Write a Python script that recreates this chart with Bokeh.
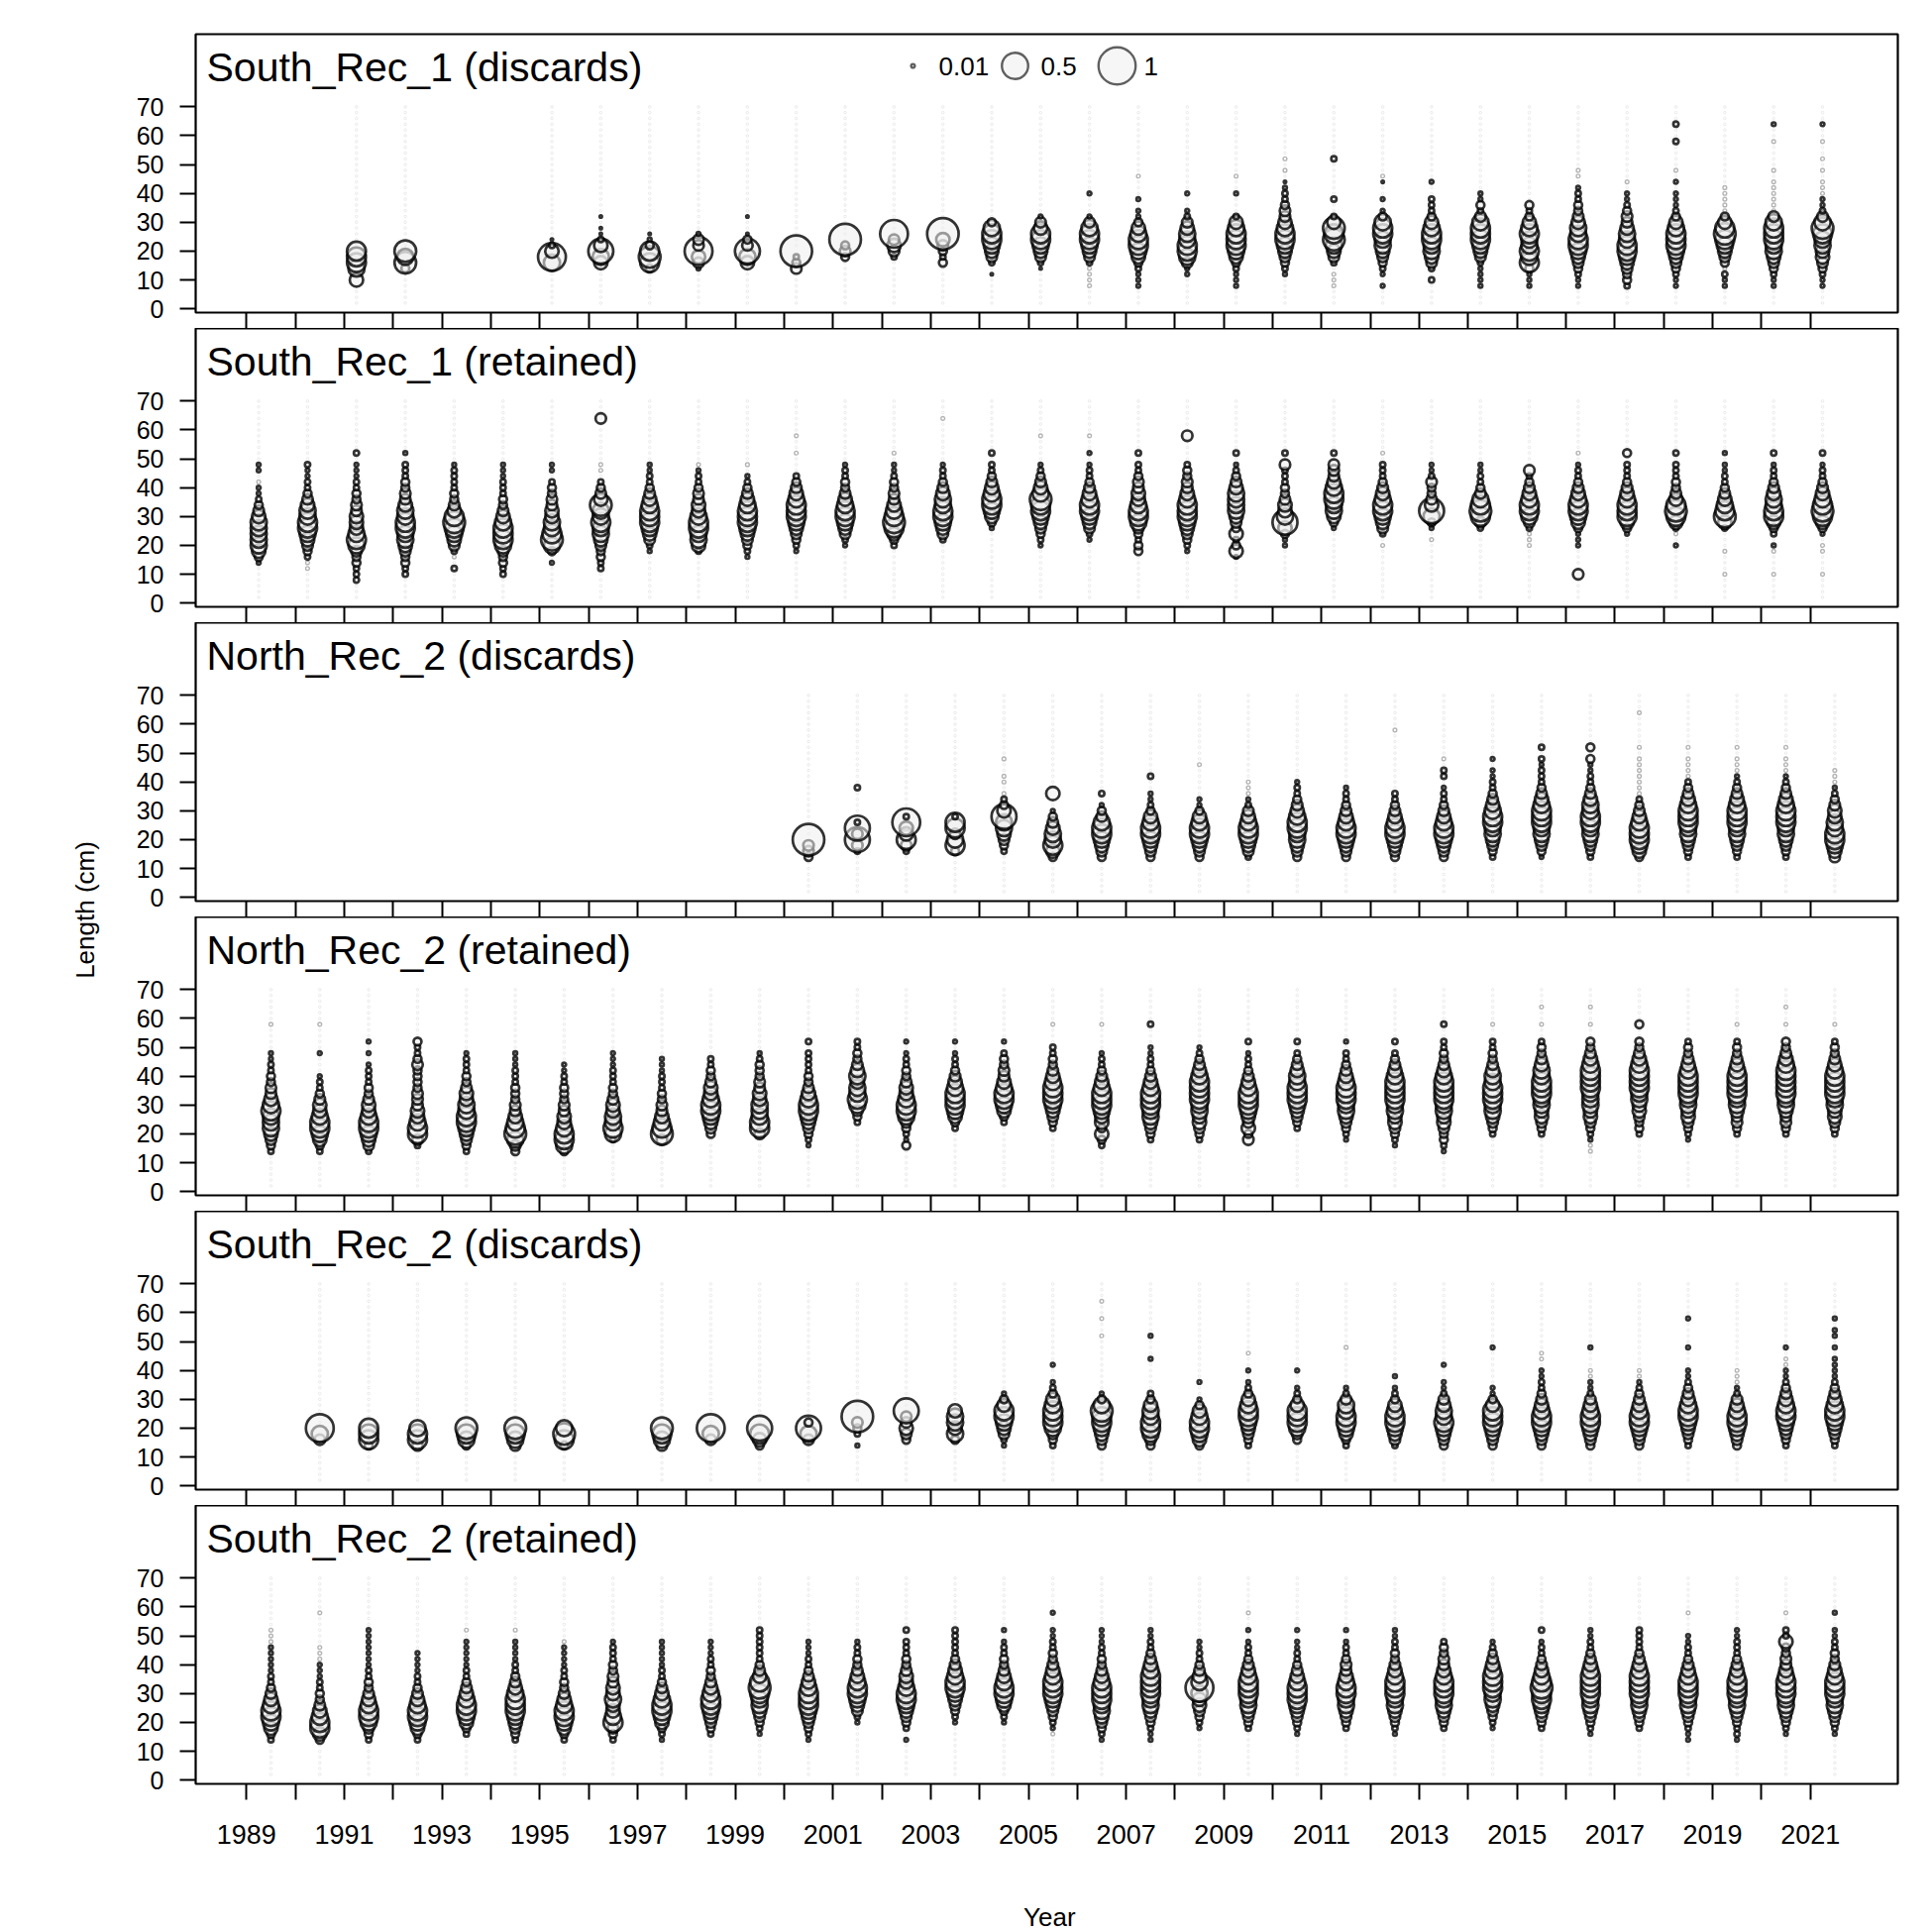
import math
from bokeh.plotting import figure
from bokeh.models import Range1d, FixedTicker, Label
from bokeh.layouts import row, column
from bokeh.embed import file_html
from bokeh.resources import INLINE

# ---------------------------------------------------------------- data
YEARS = list(range(1989, 2022))
X_LABELED_YEARS = [1989, 1991, 1993, 1995, 1997, 1999, 2001, 2003, 2005,
                   2007, 2009, 2011, 2013, 2015, 2017, 2019, 2021]
Y_TICKS = [0, 10, 20, 30, 40, 50, 60, 70]
LENGTH_BINS = list(range(8, 66, 2))      # 8 .. 64 cm, one character per bin
ZERO_BINS = list(range(2, 72, 2))        # bins that show the faint "empty" marker

# proportion read for each size class used in the strings below
# '.' = empty bin, 'a' = tiny pale bubble
LEVEL_P = {"1": 0.001, "2": 0.004, "3": 0.01, "4": 0.02, "5": 0.045,
           "6": 0.08, "7": 0.13, "8": 0.19, "9": 0.26, "A": 0.34,
           "B": 0.45, "C": 0.56, "D": 0.72, "E": 0.85, "F": 0.95}
PALE_P = 0.01

PANEL_NAMES = ["South_Rec_1 (discards)", "South_Rec_1 (retained)",
               "North_Rec_2 (discards)", "North_Rec_2 (retained)",
               "South_Rec_2 (discards)", "South_Rec_2 (retained)"]
SAMPLE_OFFSET = [0.25, 0.25, 0.5, 0.5, 0.5, 0.5]

LEGEND_VALUES = [0.01, 0.5, 1.0]
LEGEND_LABELS = ["0.01", "0.5", "1"]

S1_DISC = {
    1991: ".7.8999",
    1992: "...5A8A",
    1995: "....8C742",
    1996: "....78B7422.2",
    1997: "...59A9532",
    1998: "...367C663",
    1999: "....78B652..2",
    2000: "...654D",
    2001: ".....565D",
    2002: ".....4676C",
    2003: "....54567D",
    2004: "..2.46789985",
    2005: "...2467899763",
    2006: "aaaa467899863...3",
    2007: "33345789987533.3...a",
    2008: "..336899887643..3",
    2009: "3334578999874...3..a",
    2010: "..34567899876654432.a.a",
    2011: "aaa.4678A9A74..4......4",
    2012: "3.345678899853.3..2a",
    2013: ".4.4678899875444..3",
    2014: "33334678999864533",
    2015: "333598988987545",
    2016: "334567899887655443.aa",
    2017: "45567899887665433.a",
    2018: "33456789998754333.3.a....4..4",
    2019: "334a56789A975aaaaa",
    2020: "3345678899986aaaaaa.a....a..3",
    2021: "3345677889A86433aaa.a.a..a..3",
}

S1_RET = {
    1989: "...35788888765433a.33",
    1990: "..aa45678998876544334",
    1991: "444556898777665544333.4",
    1992: ".44556788998876655444.3",
    1993: "..4.a46789A9765544443",
    1994: ".44556899987655444333",
    1995: "...3.58A9887766554.33",
    1996: "..44556788988A7654.aa.......6",
    1997: ".....3467899987654433",
    1998: ".....478899877665443a",
    1999: "....345678999876543.a",
    2000: ".....34567899987654...a..a",
    2001: "......346789987655443",
    2002: "......4579A9876655433.a",
    2003: ".......46789988765443.......a",
    2004: ".........357899876544.4",
    2005: "......34567899A876543....a",
    2006: ".......34678998765443.3..a",
    2007: ".....5545689987766544.4",
    2008: ".....3456789998766554....6",
    2009: "....37547567888876543.4",
    2010: "......3357B8776554446.4",
    2011: ".........357889987666.4",
    2012: "......a.4678998765444.a",
    2013: ".......a.358B76556433",
    2014: ".........469A98654433",
    2015: "......aaa46899876546",
    2016: ".6....333578998765443.a",
    2017: "........3579998765444.5",
    2018: "......3.a479A97655444.4",
    2019: ".a...a...47A987654433.3",
    2020: ".a...a3.4579988765443.4",
    2021: ".a...aa.3579A98765443.4",
}

N2_DISC = {
    2000: "...566D",
    2001: "....46B6B4.....4",
    2002: "....46977C4",
    2003: "....5986994",
    2004: "....456788B754a.aa..a",
    2005: "...579887653..7",
    2006: "...5678998653.4",
    2007: "...567899875433..4",
    2008: "...56789987533.....a",
    2009: "...46789987643aaa",
    2010: "...56788998765443",
    2011: "...5678998765443",
    2012: "...567899876544..........a",
    2013: "...5678998765443.44.a",
    2014: "...4567889987654433.3",
    2015: "...356788999876544434.4",
    2016: "...456788998876544335.5",
    2017: "...57899987654aaaaaaa.a.....a",
    2018: "...45678899987654aaaa.a",
    2019: "...456788999876543aaa.a",
    2020: "...456788999876543aaa.a",
    2021: "...6789988776543aaa",
}

N2_RET = {
    1989: "...456788898766554433....a",
    1990: "...45789987765443...3....a",
    1991: "...4678998776554443.3.3",
    1992: "....4699877666555565445",
    1993: "...456789988776554443",
    1994: "...568A98766555444333",
    1995: "...5899877665554433",
    1996: ".....4898877655444333",
    1997: ".....6A9876655444333",
    1998: "......56789987765544",
    1999: "......699888776655543",
    2000: "....34567899876554444.4",
    2001: "........456898878765544",
    2002: "....53456899877655443.3",
    2003: ".......45789998765443.3",
    2004: "........4578998766554.3",
    2005: ".......456789998765544...a",
    2006: "....45757789998765443....a",
    2007: ".....45678899987654433...4",
    2008: ".....45677889999876543",
    2009: ".....6576789998765443.4",
    2010: ".......45678999887654.4",
    2011: ".....3456788999876544.3",
    2012: "....34567788999987654.4",
    2013: "...34556778899998765544..4",
    2014: "......45678899988765544..a",
    2015: "......45677889998876554..a..a",
    2016: "...aa345677888999987655..a..a",
    2017: "......45567788999987655..5",
    2018: ".....345677889999876554",
    2019: "......45667889999876554..a",
    2020: "......45667889999987655..a..a",
    2021: "......45677889999876554..a",
}

S2_DISC = {
    1990: "....68C",
    1991: "...5999",
    1992: "...6998",
    1993: "...589A",
    1994: "...689A",
    1995: "...59A8",
    1997: "...689A",
    1998: "....68C",
    1999: "...579B",
    2000: "....68B5",
    2001: "...3.456D",
    2002: "....56766B",
    2003: "....587887",
    2004: "...3467899753",
    2005: "...456899987543..3",
    2006: "...567899A853.........a..a..a",
    2007: "...5689988754.....3...3",
    2008: "...578998753..3",
    2009: "...456789987543.3..a",
    2010: "....5689997543..3",
    2011: "...45789988643......a",
    2012: "...46789987543.3",
    2013: "...567898876433..3",
    2014: "...56789997533......3",
    2015: "...56789987654433.aa",
    2016: "...567899876433aa...3",
    2017: "...567899876543aa",
    2018: "...45678998765433...3....3",
    2019: "...56789987643aaa",
    2020: "...45678998765433aa.3",
    2021: "...4567899876543333.3.33.3",
}

S2_RET = {
    1989: "...45789987654433333aaa",
    1990: "...57998765544333aaa.....a",
    1991: "...45689987655443333333",
    1992: "...4578998765443333",
    1993: "....45789987654433333.a",
    1994: "...456789998765443333.a",
    1995: "...45789987655443333a",
    1996: "...456987787766554443",
    1997: "...345789987654433333",
    1998: "....45678998765544333",
    1999: "....34567889A9765444444",
    2000: "...345678999876544333",
    2001: "......346789987655443",
    2002: "...3.4567899877655444.4",
    2003: "......34567899876544444",
    2004: "......345789987655443.3",
    2005: "....a345678999876554433..3",
    2006: "...34567889998765544333",
    2007: "...33456788999987654433",
    2008: ".....3456778C87654433",
    2009: ".....4567889998765443.3..a",
    2010: "....34567899987654433.3",
    2011: ".....4567889987665443.3",
    2012: "....3456788999876554433",
    2013: ".....4567889998766554",
    2014: ".....3456788999876543",
    2015: ".....4567899A98765443.4",
    2016: "....3456788999987654433",
    2017: ".....456788999987654444",
    2018: "...3345678899987654433...a",
    2019: "...34456788999876544433",
    2020: "....3456788999876655744..a",
    2021: "....3456788999876554433..3",
}

PANEL_DATA = [S1_DISC, S1_RET, N2_DISC, N2_RET, S2_DISC, S2_RET]

# ---------------------------------------------------------------- layout / style
FONT = "Liberation Sans"
X_RANGE = (1987.96, 2022.79)
Y_RANGE = (-1.3, 95.2)
PAGE = 1950
LEFT_STRIP = 110
FRAME_W, FRAME_H = 1718, 281
BORDER_L, BORDER_R = 87, 35
TOP_FIRST, GAP, BOTTOM_LAST = 34, 16, 76
FULL_SIZE = 37.5          # screen diameter of a bubble for proportion 1
PX_X = FRAME_W / (X_RANGE[1] - X_RANGE[0])
PX_Y = FRAME_H / (Y_RANGE[1] - Y_RANGE[0])
PANEL_W = BORDER_L + FRAME_W + BORDER_R

BUBBLE_STYLE = dict(fill_color="#eeeeee", fill_alpha=0.55, line_color="black",
                    line_alpha=0.8, line_width=2.7)


def decode(code):
    code = code[:len(LENGTH_BINS)].ljust(len(LENGTH_BINS), ".")
    return dict(zip(LENGTH_BINS, code))


def make_panel(k):
    first = k == 0
    last = k == len(PANEL_NAMES) - 1
    top = TOP_FIRST if first else 0
    bottom = BOTTOM_LAST if last else GAP
    p = figure(width=PANEL_W, height=top + FRAME_H + bottom,
               x_range=Range1d(*X_RANGE), y_range=Range1d(*Y_RANGE),
               toolbar_location=None, output_backend="svg", title=None,
               min_border=0, min_border_left=BORDER_L, min_border_right=BORDER_R,
               min_border_top=top, min_border_bottom=bottom)
    p.xgrid.visible = False
    p.ygrid.visible = False
    p.outline_line_color = "black"
    p.outline_line_width = 2.2
    p.background_fill_color = "white"
    p.border_fill_color = "white"

    xa = p.xaxis[0]
    xa.axis_line_color = None
    xa.major_tick_out = 16
    xa.major_tick_in = 0
    xa.minor_tick_out = 16
    xa.minor_tick_in = 0
    xa.major_tick_line_width = 2
    xa.minor_tick_line_width = 2
    xa.major_tick_line_color = "black"
    xa.minor_tick_line_color = "black"
    if last:
        xa.ticker = FixedTicker(ticks=X_LABELED_YEARS,
                                minor_ticks=[y for y in YEARS if y not in X_LABELED_YEARS])
        xa.major_label_text_font = FONT
        xa.major_label_text_font_size = "27px"
        xa.major_label_text_color = "black"
        xa.major_label_standoff = 25
    else:
        xa.ticker = FixedTicker(ticks=[], minor_ticks=YEARS)
        xa.major_label_standoff = 0

    ya = p.yaxis[0]
    ya.ticker = FixedTicker(ticks=Y_TICKS)
    ya.axis_line_color = None
    ya.major_tick_out = 16
    ya.major_tick_in = 0
    ya.minor_tick_out = 0
    ya.minor_tick_in = 0
    ya.major_tick_line_width = 2
    ya.major_tick_line_color = "black"
    ya.major_label_text_font = FONT
    ya.major_label_text_font_size = "25px"
    ya.major_label_text_color = "black"
    ya.major_label_standoff = 16

    data = PANEL_DATA[k]
    zx, zy, lx, ly, bx, by, bs = [], [], [], [], [], [], []
    for year in sorted(data):
        xpos = year + SAMPLE_OFFSET[k]
        bins = decode(data[year])
        for L in ZERO_BINS:
            if bins.get(L, ".") == ".":
                zx.append(xpos)
                zy.append(L)
        for L in LENGTH_BINS:
            ch = bins[L]
            if ch == "a":
                lx.append(xpos)
                ly.append(L)
            elif ch in LEVEL_P:
                bx.append(xpos)
                by.append(L)
                bs.append(FULL_SIZE * math.sqrt(LEVEL_P[ch]))

    p.scatter(zx, zy, marker="circle", size=2.6, fill_color=None,
              line_color="#c4c4c4", line_width=0.8, line_alpha=0.4)
    p.scatter(lx, ly, marker="circle", size=FULL_SIZE * math.sqrt(PALE_P),
              fill_color=None, line_color="#8c8c8c", line_width=1.4, line_alpha=0.65)
    p.scatter(bx, by, marker="circle", size=bs, **BUBBLE_STYLE)

    p.add_layout(Label(x=X_RANGE[0] + 11 / PX_X, y=Y_RANGE[1] - 33 / PX_Y,
                       text=PANEL_NAMES[k], text_font=FONT, text_font_size="41px",
                       text_color="black", text_align="left", text_baseline="alphabetic"))

    if first:
        cx = [724, 827, 930]
        tx = [750, 853, 957]
        ly0 = Y_RANGE[1] - 32 / PX_Y
        lstyle = dict(BUBBLE_STYLE)
        lstyle["line_alpha"] = 0.62
        lstyle["line_width"] = 2.4
        p.scatter([X_RANGE[0] + c / PX_X for c in cx], [ly0] * 3, marker="circle",
                  size=[FULL_SIZE * math.sqrt(v) for v in LEGEND_VALUES], **lstyle)
        for t, lab in zip(tx, LEGEND_LABELS):
            p.add_layout(Label(x=X_RANGE[0] + t / PX_X, y=ly0, text=lab, text_font=FONT,
                               text_font_size="26px", text_color="black",
                               text_align="left", text_baseline="middle"))
    return p


def blank_figure(w, h, x_end, y_start):
    f = figure(width=w, height=h, x_range=Range1d(0, x_end), y_range=Range1d(y_start, 0),
               toolbar_location=None, output_backend="svg", title=None, min_border=0,
               x_axis_location=None, y_axis_location=None)
    f.xgrid.visible = False
    f.ygrid.visible = False
    f.outline_line_color = None
    return f


panels = [make_panel(k) for k in range(len(PANEL_NAMES))]
used_h = sum(pp.height for pp in panels)

# x-axis title strip under the last panel
year_strip = blank_figure(PANEL_W, PAGE - used_h, PANEL_W, PAGE - used_h)
year_strip.add_layout(Label(x=BORDER_L + FRAME_W / 2 - 23, y=1934 - used_h, text="Year",
                            text_align="center", text_baseline="middle", text_font=FONT,
                            text_font_size="26px", text_color="black"))

# y-axis title strip on the left
side = blank_figure(LEFT_STRIP, PAGE, LEFT_STRIP, PAGE)
side.add_layout(Label(x=85, y=918, text="Length (cm)", angle=math.pi / 2,
                      text_align="center", text_baseline="middle", text_font=FONT,
                      text_font_size="26px", text_color="black"))

layout = row(side, column(*panels, year_strip, spacing=0), spacing=0)
open("out.html", "w").write(file_html(layout, INLINE))
